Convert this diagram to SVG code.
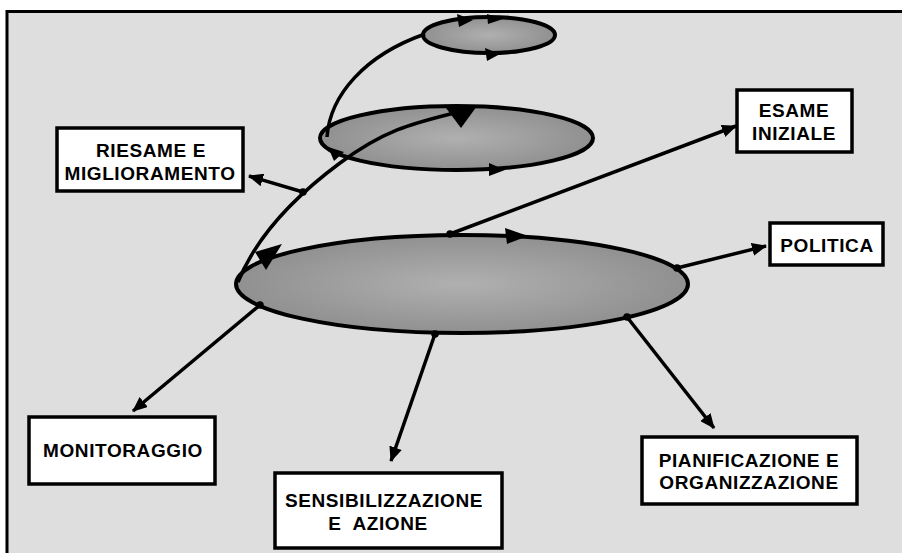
<svg xmlns="http://www.w3.org/2000/svg" width="902" height="553" viewBox="0 0 902 553">
<defs>
<radialGradient id="eg" cx="0.5" cy="0.5" r="0.6">
<stop offset="0" stop-color="#b0b0b0"/>
<stop offset="1" stop-color="#8a8a8a"/>
</radialGradient>
<marker id="arr" viewBox="0 0 15 13" refX="14" refY="6.5" markerWidth="15" markerHeight="13" markerUnits="userSpaceOnUse" orient="auto">
<path d="M0,0 L15,6.5 L0,13 Z" fill="#000"/>
</marker>
<marker id="dot" viewBox="0 0 8 8" refX="4" refY="4" markerWidth="8" markerHeight="8" markerUnits="userSpaceOnUse">
<circle cx="4" cy="4" r="3.8" fill="#000"/>
</marker>
<style>
.ell{fill:url(#eg);stroke:#000;stroke-width:4}
.box{fill:#fff;stroke:#000;stroke-width:3.5}
.lbl{font-family:"Liberation Sans",Arial,sans-serif;font-weight:bold;font-size:19px;letter-spacing:0.6px;fill:#000;text-anchor:middle}
.con{fill:none;stroke:#000;stroke-width:3.5}
.tip{fill:#000}
</style>
</defs>
<rect x="7" y="11" width="895" height="542" fill="#dedede"/>
<path d="M7,553 V11.5 H902" fill="none" stroke="#000" stroke-width="3"/>
<g id="ellipse-main"><ellipse class="ell" cx="462" cy="284" rx="226" ry="49"/></g>
<g id="ellipse-middle"><ellipse class="ell" cx="456.5" cy="138" rx="136.5" ry="32"/></g>
<g id="ellipse-top"><ellipse class="ell" cx="489" cy="35" rx="66" ry="18"/></g>
<g id="connectors">
<path class="con" d="M238,282 C255,240 290,200 340,163 S420,122 466,110"/>
<path class="con" d="M327,137 C330,95 365,55 425,34"/>
<path class="con" d="M303,192 L249,176" marker-start="url(#dot)" marker-end="url(#arr)"/>
<path class="con" d="M450,234 L736,126" marker-start="url(#dot)" marker-end="url(#arr)"/>
<path class="con" d="M677,268 L766,246" marker-start="url(#dot)" marker-end="url(#arr)"/>
<path class="con" d="M260,305 L133,411" marker-start="url(#dot)" marker-end="url(#arr)"/>
<path class="con" d="M435,334 L391,461" marker-start="url(#dot)" marker-end="url(#arr)"/>
<path class="con" d="M627,317 L714,428" marker-start="url(#dot)" marker-end="url(#arr)"/>
<polygon class="tip" points="255,252 282,244 266,270"/>
<polygon class="tip" points="505,228 528,236 507,244"/>
<polygon class="tip" points="446,108 477,106 461,128"/>
<polygon class="tip" points="328,147 344,152 334,161"/>
<polygon class="tip" points="489,163 505,170 489,176"/>
<polygon class="tip" points="457,14 473,20 459,27"/>
<polygon class="tip" points="487,14 503,19 488,24"/>
<polygon class="tip" points="485,48 500,54 487,61"/>
</g>
<g id="riesame">
<rect class="box" x="57" y="128" width="186" height="63"/>
<text class="lbl" x="151" y="157">RIESAME E</text>
<text class="lbl" x="150" y="180">MIGLIORAMENTO</text>
</g>
<g id="esame">
<rect class="box" x="737" y="90" width="115" height="62"/>
<text class="lbl" x="794" y="117">ESAME</text>
<text class="lbl" x="794" y="140">INIZIALE</text>
</g>
<g id="politica">
<rect class="box" x="770" y="223" width="113" height="42"/>
<text class="lbl" x="827" y="252">POLITICA</text>
</g>
<g id="monitoraggio">
<rect class="box" x="29" y="417" width="186" height="67"/>
<text class="lbl" x="123" y="457">MONITORAGGIO</text>
</g>
<g id="sensibilizzazione">
<rect class="box" x="275" y="473" width="227" height="75"/>
<text class="lbl" x="384" y="507">SENSIBILIZZAZIONE</text>
<text class="lbl" x="378" y="530" xml:space="preserve">E  AZIONE</text>
</g>
<g id="pianificazione">
<rect class="box" x="642" y="437" width="215" height="67"/>
<text class="lbl" x="749" y="467">PIANIFICAZIONE E</text>
<text class="lbl" x="749" y="489">ORGANIZZAZIONE</text>
</g>
</svg>
